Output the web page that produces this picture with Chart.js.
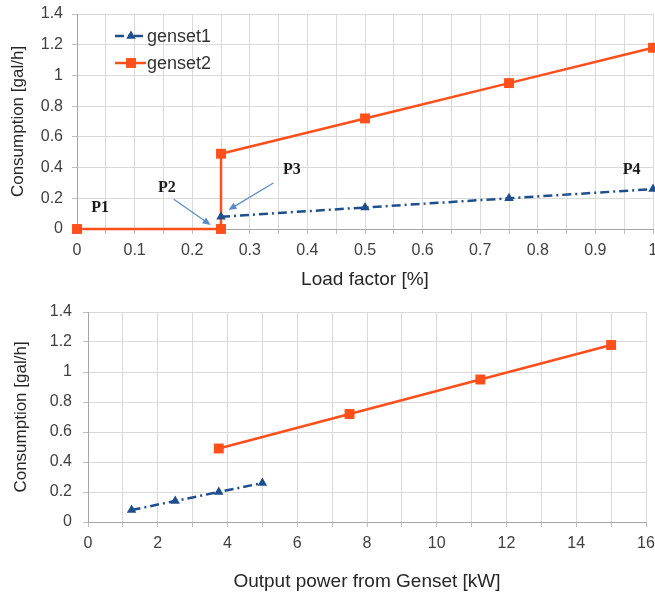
<!DOCTYPE html>
<html>
<head>
<meta charset="utf-8">
<script src="https://cdn.jsdelivr.net/npm/chart.js@4.4.1/dist/chart.umd.min.js"></script>
<style>
  body { margin: 0; background: #fff; }
  #top-box { position: absolute; left: 0; top: 0; }
  #bottom-box { position: absolute; left: 0; top: 295px; }
</style>
</head>
<body>
<div id="top-box"><canvas id="load_chart" width="655" height="295"></canvas></div>
<div id="bottom-box"><canvas id="power_chart" width="655" height="299"></canvas></div>
<script>

// data
var loadFactor1  = [0.25, 0.5, 0.75, 1];
var consumption1 = [0.08, 0.14, 0.20, 0.26];
var loadFactor2  = [0, 0.25, 0.25, 0.5, 0.75, 1];
var consumption2 = [0, 0, 0.49, 0.72, 0.95, 1.18];

var power1 = [1.25, 2.5, 3.75, 5];
var powerConsumption1 = [0.08, 0.14, 0.20, 0.26];
var power2 = [3.75, 7.5, 11.25, 15];
var powerConsumption2 = [0.49, 0.72, 0.95, 1.18];

var seriesNames = ["genset1", "genset2"];
var annotationLabels = ["P1", "P2", "P3", "P4"];

var blue = "#1F4E8C";
var orange = "#FF4F1A";
var dashDot = [9, 4, 2, 4];
var fontName = "'Liberation Sans', Arial, sans-serif";

Chart.defaults.font.family = fontName;
Chart.defaults.color = "#404040";

function toPoints(xs, ys) {
  var pts = [];
  for (var i = 0; i < xs.length; i++) {
    pts.push({ x: xs[i], y: ys[i] });
  }
  return pts;
}

function fmt(v) {
  return String(Math.round(v * 10) / 10);
}

function genset1Set(pts) {
  return {
    label: seriesNames[0],
    data: pts,
    borderColor: blue,
    backgroundColor: blue,
    borderWidth: 2.5,
    borderDash: dashDot,
    pointStyle: "triangle",
    pointRadius: 5.5,
    pointBorderWidth: 0,
    clip: false
  };
}

function genset2Set(pts) {
  return {
    label: seriesNames[1],
    data: pts,
    borderColor: orange,
    backgroundColor: orange,
    borderWidth: 2.5,
    pointStyle: "rect",
    pointRadius: 7,
    pointBorderWidth: 0,
    clip: false
  };
}

// legend drawn inside the plot area (top chart only)
var insideLegend = {
  id: "insideLegend",
  afterDatasetsDraw: function(chart) {
    var ctx = chart.ctx;
    var items = [
      { y: 36, color: blue, dash: dashDot, style: "triangle", r: 5.5 },
      { y: 63, color: orange, dash: [], style: "rect", r: 7 }
    ];
    ctx.save();
    for (var i = 0; i < items.length; i++) {
      var it = items[i];
      ctx.strokeStyle = it.color;
      ctx.lineWidth = 2.5;
      ctx.setLineDash(it.dash);
      ctx.beginPath();
      ctx.moveTo(115, it.y);
      ctx.lineTo(146, it.y);
      ctx.stroke();
      ctx.setLineDash([]);
      ctx.fillStyle = it.color;
      Chart.helpers.drawPoint(ctx, { pointStyle: it.style, radius: it.r, borderWidth: 0 }, 131, it.y);
      ctx.fillStyle = "#333";
      ctx.font = "18px " + fontName;
      ctx.textAlign = "left";
      ctx.textBaseline = "middle";
      ctx.fillText(seriesNames[i], 147, it.y + 1);
    }
    ctx.restore();
  }
};

// P1..P4 labels and the two arrows, placed in data units
var pointNotes = {
  id: "pointNotes",
  afterDatasetsDraw: function(chart) {
    var ctx = chart.ctx;
    var xs = chart.scales.x, ys = chart.scales.y;
    var spots = [[0.04, 0.14], [0.156, 0.27], [0.373, 0.385], [0.963, 0.385]];
    ctx.save();
    ctx.font = "bold 16px 'Liberation Serif', 'Times New Roman', serif";
    ctx.fillStyle = "#1a1a1a";
    ctx.textAlign = "center";
    ctx.textBaseline = "middle";
    for (var i = 0; i < spots.length; i++) {
      ctx.fillText(annotationLabels[i], xs.getPixelForValue(spots[i][0]), ys.getPixelForValue(spots[i][1]));
    }
    var arrows = [[0.168, 0.193, 0.232, 0.026], [0.341, 0.30, 0.263, 0.124]];
    ctx.strokeStyle = "#5B8BC9";
    ctx.fillStyle = "#5B8BC9";
    ctx.lineWidth = 1.2;
    for (var j = 0; j < arrows.length; j++) {
      var x0 = xs.getPixelForValue(arrows[j][0]), y0 = ys.getPixelForValue(arrows[j][1]);
      var x1 = xs.getPixelForValue(arrows[j][2]), y1 = ys.getPixelForValue(arrows[j][3]);
      var a = Math.atan2(y1 - y0, x1 - x0);
      ctx.beginPath();
      ctx.moveTo(x0, y0);
      ctx.lineTo(x1 - 6 * Math.cos(a), y1 - 6 * Math.sin(a));
      ctx.stroke();
      ctx.beginPath();
      ctx.moveTo(x1, y1);
      ctx.lineTo(x1 - 8 * Math.cos(a) + 3.5 * Math.sin(a), y1 - 8 * Math.sin(a) - 3.5 * Math.cos(a));
      ctx.lineTo(x1 - 8 * Math.cos(a) - 3.5 * Math.sin(a), y1 - 8 * Math.sin(a) + 3.5 * Math.cos(a));
      ctx.closePath();
      ctx.fill();
    }
    ctx.restore();
  }
};

function axes(xMax, xStep, xLabelEvery, xTitle, yWidth, xHeight, yTickPad, xTickPad, yTitlePad, xTitlePad) {
  return {
    x: {
      type: "linear",
      min: 0,
      max: xMax,
      afterFit: function(scale) {
        scale.height = xHeight;
        scale.paddingLeft = 0;
        scale.paddingRight = 0;
      },
      grid: { color: "#d9d9d9", tickLength: 5, tickColor: "#bfbfbf" },
      border: { color: "#a6a6a6", width: 1 },
      ticks: {
        stepSize: xStep,
        autoSkip: false,
        maxRotation: 0,
        padding: xTickPad,
        font: { size: 16 },
        callback: function(v, i) { return i % xLabelEvery === 0 ? fmt(v) : ""; }
      },
      title: { display: true, text: xTitle, color: "#262626", font: { size: 19 }, padding: { top: 0, bottom: xTitlePad } }
    },
    y: {
      type: "linear",
      min: 0,
      max: 1.4,
      afterFit: function(scale) {
        scale.width = yWidth;
        scale.paddingTop = 0;
        scale.paddingBottom = 0;
      },
      grid: { color: "#d9d9d9", tickLength: 5, tickColor: "#bfbfbf" },
      border: { color: "#a6a6a6", width: 1 },
      ticks: { stepSize: 0.2, padding: yTickPad, font: { size: 16 }, callback: function(v) { return fmt(v); } },
      title: { display: true, text: "Consumption [gal/h]", color: "#262626", font: { size: 17 }, padding: { top: yTitlePad, bottom: 0 } }
    }
  };
}

var loadChart = new Chart(document.getElementById("load_chart").getContext("2d"), {
  type: "line",
  data: {
    datasets: [
      genset1Set(toPoints(loadFactor1, consumption1)),
      genset2Set(toPoints(loadFactor2, consumption2))
    ]
  },
  options: {
    responsive: false,
    animation: false,
    devicePixelRatio: 1,
    layout: { autoPadding: false, padding: { left: 0, right: 2, top: 14, bottom: 0 } },
    plugins: { legend: { display: false }, tooltip: { enabled: false } },
    scales: axes(1, 0.05, 2, "Load factor [%]", 77, 66, 9, 7, 8, 4)
  },
  plugins: [insideLegend, pointNotes]
});

var powerChart = new Chart(document.getElementById("power_chart").getContext("2d"), {
  type: "line",
  data: {
    datasets: [
      genset1Set(toPoints(power1, powerConsumption1)),
      genset2Set(toPoints(power2, powerConsumption2))
    ]
  },
  options: {
    responsive: false,
    animation: false,
    devicePixelRatio: 1,
    layout: { autoPadding: false, padding: { left: 0, right: 9, top: 17, bottom: 0 } },
    plugins: { legend: { display: false }, tooltip: { enabled: false } },
    scales: axes(16, 1, 2, "Output power from Genset [kW]", 88, 72, 11, 7, 11, 1)
  }
});

</script>
</body>
</html>
